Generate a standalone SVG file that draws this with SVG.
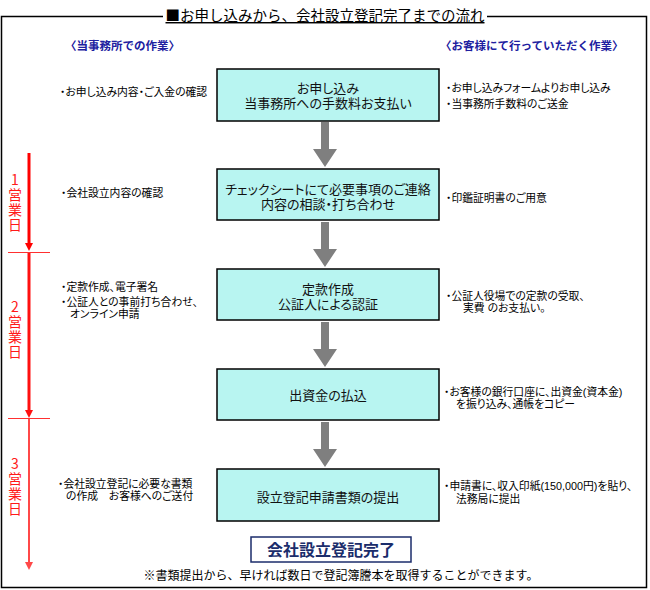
<svg xmlns="http://www.w3.org/2000/svg" width="650" height="590" viewBox="0 0 650 590">
<style>
text{font-family:"Noto Sans CJK JP","Noto Sans",sans-serif;fill:#000}
.title{font-size:14.5px;text-anchor:middle;text-decoration:underline}
.hdr{font-size:11.5px;font-weight:bold;fill:#2020a0}
.box rect{fill:#b8f5f1;stroke:#000;stroke-width:1.5}
.box text{font-family:"Liberation Sans","Noto Sans CJK JP",sans-serif;font-size:13px;text-anchor:middle;fill:#111;font-feature-settings:"palt"}
.note{font-family:"Liberation Sans","Noto Sans CJK JP",sans-serif;font-size:10.8px;font-feature-settings:"palt"}
.day{font-size:14px;fill:#ff1a1a;writing-mode:vertical-rl;text-orientation:upright;letter-spacing:1px}
.garrow{fill:#7f7f7f}
.tick{stroke:#ff3030;stroke-width:1}
.done rect{fill:#fff;stroke:#1b2d6b;stroke-width:1.5}
.done text{font-size:16px;font-weight:bold;fill:#1b2d6b;text-anchor:middle}
.foot{font-size:12px;text-anchor:middle}
</style>
<rect width="650" height="590" fill="#fff"/>
<path d="M163,16.5 H1.5 V587.5 H646.5 V16.5 H487" fill="none" stroke="#000" stroke-width="1.5"/>
<text class="title" x="325" y="21">■お申し込みから、会社設立登記完了までの流れ</text>
<text class="hdr" x="65" y="50">〈当事務所での作業〉</text>
<text class="hdr" x="440" y="50">〈お客様にて行っていただく作業〉</text>

<g id="connectors">
  <polygon class="garrow" points="321,122 329,122 329,149 337,149 325,167 313,149 321,149"/>
  <polygon class="garrow" points="321,222 329,222 329,249 337,249 325,267 313,249 321,249"/>
  <polygon class="garrow" points="321,322 329,322 329,349 337,349 325,367 313,349 321,349"/>
  <polygon class="garrow" points="321,422 329,422 329,449 337,449 325,467 313,449 321,449"/>
  <g id="timeline">
    <line x1="29" y1="153" x2="29" y2="244" stroke="#ff0000" stroke-width="3"/>
    <polygon points="25,243 33,243 29,251" fill="#ff0000"/>
    <line class="tick" x1="8" y1="252.5" x2="50" y2="252.5"/>
    <line x1="29" y1="253" x2="29" y2="411" stroke="#ff1010" stroke-width="3"/>
    <polygon points="25,410 33,410 29,418" fill="#ff1010"/>
    <line class="tick" x1="8" y1="418.5" x2="50" y2="418.5"/>
    <line x1="29" y1="419" x2="29" y2="563" stroke="#ff4848" stroke-width="2"/>
    <polygon points="25,562 33,562 29,570" fill="#ff4848"/>
  </g>
</g>

<g id="day1"><text class="day" x="15" y="173">1営業日</text></g>
<g id="day2"><text class="day" x="15" y="300">2営業日</text></g>
<g id="day3"><text class="day" x="15" y="457">3営業日</text></g>

<g id="step1" class="box">
  <rect x="217" y="69" width="222" height="52"/>
  <text x="328" y="93">お申し込み</text>
  <text x="328" y="108">当事務所への手数料お支払い</text>
</g>
<g id="step2" class="box">
  <rect x="217" y="169" width="222" height="51"/>
  <text x="328" y="194">チェックシートにて必要事項のご連絡</text>
  <text x="328" y="209">内容の相談・打ち合わせ</text>
</g>
<g id="step3" class="box">
  <rect x="217" y="269" width="222" height="51"/>
  <text x="328" y="294">定款作成</text>
  <text x="328" y="309">公証人による認証</text>
</g>
<g id="step4" class="box">
  <rect x="217" y="369" width="222" height="51"/>
  <text x="328" y="400">出資金の払込</text>
</g>
<g id="step5" class="box">
  <rect x="217" y="469" width="222" height="52"/>
  <text x="328" y="502">設立登記申請書類の提出</text>
</g>

<g id="office-notes">
  <text class="note" x="60" y="96">・お申し込み内容・ご入金の確認</text>
  <text class="note" x="61" y="197">・会社設立内容の確認</text>
  <text class="note" x="61" y="291">・定款作成、電子署名</text>
  <text class="note" x="61" y="306">・公証人との事前打ち合わせ、</text>
  <text class="note" x="70" y="318">オンライン申請</text>
  <text class="note" x="58" y="488">・会社設立登記に必要な書類</text>
  <text class="note" x="66" y="500">の作成　お客様へのご送付</text>
</g>
<g id="client-notes">
  <text class="note" x="446" y="92">・お申し込みフォームよりお申し込み</text>
  <text class="note" x="446" y="108">・当事務所手数料のご送金</text>
  <text class="note" x="446" y="202">・印鑑証明書のご用意</text>
  <text class="note" x="446" y="300">・公証人役場での定款の受取、</text>
  <text class="note" x="463" y="312">実費 のお支払い。</text>
  <text class="note" x="444" y="396">・お客様の銀行口座に、出資金(資本金)</text>
  <text class="note" x="456" y="408">を振り込み、通帳をコピー</text>
  <text class="note" x="444" y="490">・申請書に、収入印紙(150,000円)を貼り、</text>
  <text class="note" x="456" y="503">法務局に提出</text>
</g>

<g id="complete" class="done">
  <rect x="251" y="537" width="160" height="25"/>
  <text x="331" y="555.5">会社設立登記完了</text>
</g>
<text class="foot" x="341" y="580">※書類提出から、早ければ数日で登記簿謄本を取得することができます。</text>
</svg>
